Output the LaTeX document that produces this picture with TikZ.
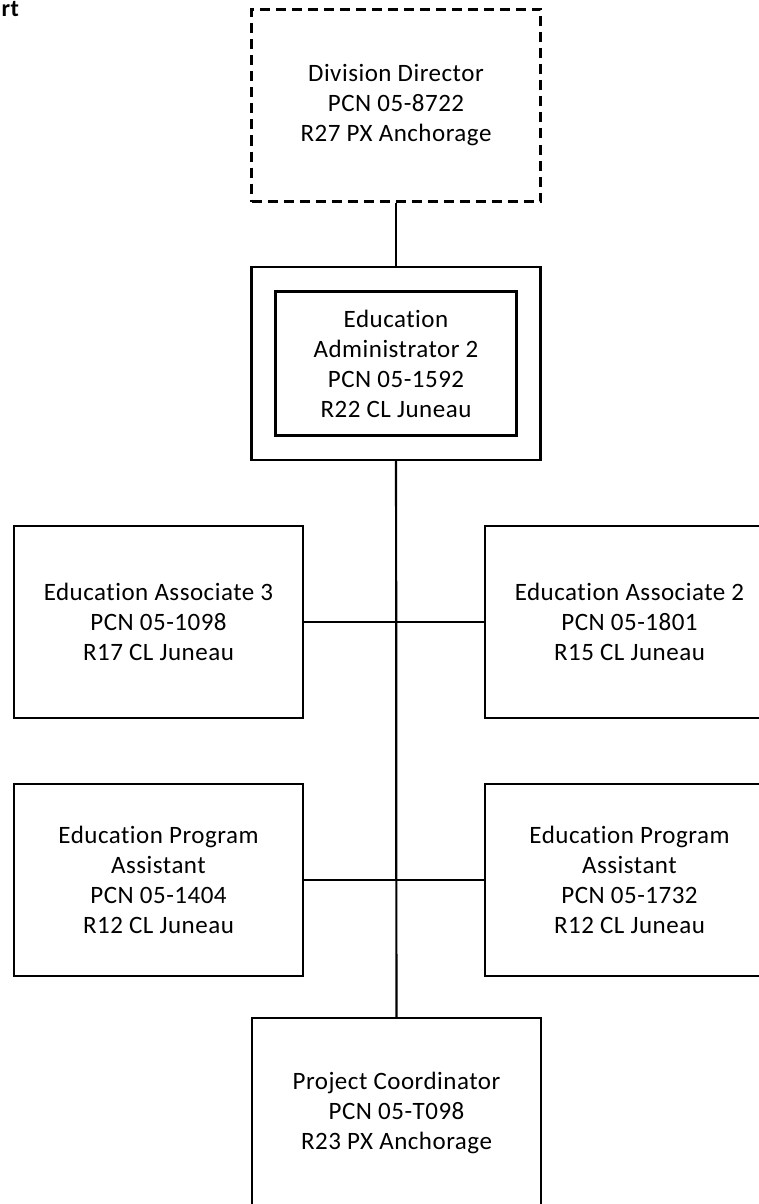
\documentclass[tikz,border=0pt]{standalone}
\usepackage{fontspec}
\setmainfont{Carlito}[Ligatures=NoCommon, LetterSpace=2]
\usepackage{tikz}

\begin{document}
\begin{tikzpicture}[x=1pt, y=-1pt, node distance=258pt, line width=2.2pt]
    \tikzstyle{box}=[draw=black, minimum width=289pt, minimum height=192pt, align=center, inner sep=0pt, font=\fontsize{25}{30}\selectfont]
    \tikzstyle{inbox}=[box, minimum width=241pt, minimum height=144pt]
    \useasboundingbox (0,0) rectangle (759,1204);
    \node[anchor=base west, inner sep=0pt, font=\bfseries\fontsize{24}{28}\selectfont] (ttl) at (0.5,17) {rt};
    \node[box, dashed, dash pattern=on 10pt off 6pt] (dir) at (396,105.5) {Division Director\\PCN 05-8722\\R27 PX Anchorage};
    \node[box, below of=dir, minimum height=193pt] (adm) {};
    \node[inbox] (admin) at (adm.center) {Education\\Administrator 2\\PCN 05-1592\\R22 CL Juneau};
    \node[box] (ea3) at (158.5,622) {Education Associate 3\\PCN 05-1098\\R17 CL Juneau};
    \node[box] (ea2) at (629.5,622) {Education Associate 2\\PCN 05-1801\\R15 CL Juneau};
    \node[box] (epa1) at (158.5,880) {Education Program\\Assistant\\PCN 05-1404\\R12 CL Juneau};
    \node[box] (epa2) at (629.5,880) {Education Program\\Assistant\\PCN 05-1732\\R12 CL Juneau};
    \node[box, anchor=north] (pc) at (396.5,1017) {};
    \node[font=\fontsize{25}{30}\selectfont, align=center] (pct) at (396.5,1113) {Project Coordinator\\PCN 05-T098\\R23 PX Anchorage};
    \draw (dir) -- (adm);
    \draw (adm) -- (pc);
    \draw (ea3) -- (ea2);
    \draw (epa1) -- (epa2);
  \end{tikzpicture}
\end{document}
